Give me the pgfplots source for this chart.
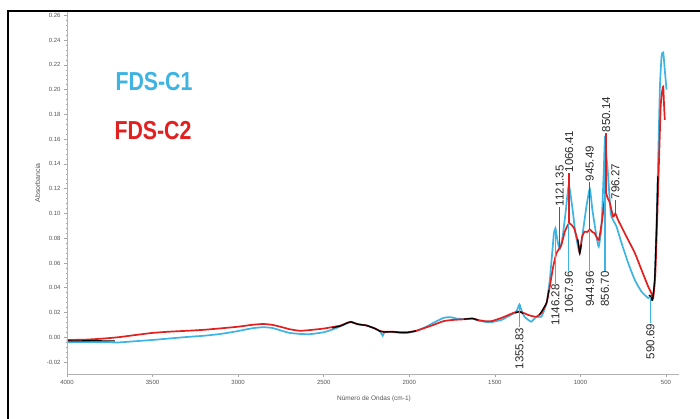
\documentclass[border=0pt]{standalone}
\usepackage{pgfplots}
\pgfplotsset{compat=1.18}
\usepackage{fontspec}
\setmainfont{Liberation Sans}
\definecolor{cC}{HTML}{3EB4E2}
\definecolor{cR}{HTML}{E2201F}
\definecolor{tk}{HTML}{555555}
\definecolor{lab}{HTML}{2A2A2A}

\pgfplotstableread{
wn v
4000 -0.0038
3900 -0.0039
3800 -0.0040
3700 -0.0042
3600 -0.0032
3500 -0.0022
3400 -0.0010
3300 0.0002
3200 0.0012
3100 0.0027
3000 0.0050
2920 0.0072
2855 0.0081
2800 0.0075
2740 0.0050
2700 0.0035
2640 0.0027
2580 0.0025
2500 0.0040
2450 0.0062
2400 0.0090
2360 0.0115
2340 0.0125
2300 0.0105
2250 0.0095
2200 0.0070
2170 0.0045
2155 0.0012
2145 0.0040
2100 0.0042
2050 0.0035
2013 0.0035
1960 0.0050
1900 0.0085
1860 0.0116
1800 0.0156
1760 0.0162
1720 0.0150
1680 0.0148
1630 0.0150
1600 0.0135
1560 0.0125
1520 0.0122
1461 0.0140
1420 0.0170
1385 0.0196
1370 0.0220
1356 0.0265
1345 0.0220
1327 0.0166
1300 0.0135
1286 0.0126
1257 0.0166
1228 0.0166
1198 0.0277
1179 0.0463
1165 0.0680
1155 0.0840
1146 0.0880
1138 0.0813
1128 0.0740
1120 0.0715
1105 0.0802
1087 0.1004
1068 0.1230
1048 0.1055
1029 0.0842
1004 0.0680
984 0.0867
965 0.1055
945 0.1200
930 0.1028
906 0.0813
893 0.0732
877 0.0893
864 0.1327
857 0.1600
848 0.1450
842 0.1378
823 0.1004
809 0.0947
789 0.0893
760 0.0762
721 0.0600
682 0.0462
643 0.0368
604 0.0317
591 0.0328
579 0.0300
566 0.0462
550 0.1190
536 0.2000
526 0.2267
516 0.2300
507 0.2159
497 0.2000
}\cone

\pgfplotstableread{
wn v
4000 -0.0022
3900 -0.0020
3800 -0.0012
3700 0.0000
3600 0.0018
3500 0.0035
3400 0.0045
3300 0.0052
3200 0.0060
3100 0.0072
3000 0.0085
2920 0.0100
2855 0.0107
2800 0.0100
2740 0.0080
2700 0.0065
2640 0.0052
2580 0.0058
2500 0.0070
2450 0.0082
2400 0.0095
2360 0.0118
2340 0.0122
2300 0.0105
2250 0.0095
2200 0.0070
2170 0.0050
2150 0.0045
2100 0.0045
2050 0.0040
2013 0.0040
1960 0.0052
1900 0.0080
1860 0.0099
1800 0.0130
1760 0.0138
1720 0.0142
1680 0.0145
1630 0.0152
1600 0.0140
1560 0.0130
1520 0.0130
1461 0.0156
1420 0.0180
1385 0.0200
1356 0.0207
1330 0.0195
1305 0.0180
1280 0.0170
1257 0.0166
1228 0.0196
1198 0.0277
1179 0.0409
1159 0.0570
1140 0.0680
1121 0.0720
1111 0.0746
1091 0.0853
1066 0.0921
1037 0.0880
1013 0.0762
1004 0.0680
990 0.0813
975 0.0853
960 0.0850
945 0.0870
930 0.0850
917 0.0840
893 0.0786
873 0.0947
860 0.1100
850 0.1160
840 0.1120
829 0.1090
809 0.0974
796 0.1000
780 0.0947
741 0.0840
682 0.0680
643 0.0544
604 0.0409
585 0.0355
575 0.0317
562 0.0519
546 0.1190
531 0.1863
521 0.2000
516 0.2024
511 0.1863
507 0.1755
}\ctwo

\begin{document}
\begin{tikzpicture}[x=1pt,y=1pt]
\useasboundingbox (0,0) rectangle (700,418);
\fill[white] (0,0) rectangle (700,418);
\draw[line width=2pt] (8,-5) -- (8,407.3) -- (710,407.3);
\begin{axis}[
  at={(67pt,44pt)}, anchor=south west,
  scale only axis, width=612pt, height=362pt,
  x dir=reverse, xmin=424, xmax=4000, ymin=-0.0297, ymax=0.2627,
  axis line style={draw=none},
  clip=false,
  xtick={500,1000,1500,2000,2500,3000,3500,4000},
  ytick={-0.02,0,0.02,0.04,0.06,0.08,0.10,0.12,0.14,0.16,0.18,0.20,0.22,0.24,0.26},
  minor x tick num=4, minor y tick num=4,
  tick align=outside, major tick length=3pt, minor tick length=1.3pt,
  tick style={color=gray!70, line width=0.5pt},
  xtick pos=bottom, ytick pos=left,
  /pgf/number format/assume math mode=true,
  /pgf/number format/1000 sep={},
  xticklabel style={font=\fontsize{6}{6}\selectfont, text=tk},
  yticklabel style={font=\fontsize{6}{6}\selectfont, text=tk,
    /pgf/number format/.cd, fixed, fixed zerofill, precision=2},
]
\addplot[cC, line width=1.7pt, smooth, tension=0.3] table[x=wn,y=v] {\cone};
\addplot[cR, line width=1.7pt, smooth, tension=0.3] table[x=wn,y=v] {\ctwo};
% overlapping stretches drawn black
\addplot[black, line width=1.1pt] coordinates {(4000,-0.0030) (3850,-0.0028) (3720,-0.0030)};
\addplot[black, line width=1.3pt, smooth, tension=0.3] coordinates {(2450,0.0075) (2400,0.0092) (2360,0.0117) (2340,0.0124) (2300,0.0105) (2250,0.0095) (2200,0.0070) (2170,0.0048) (2150,0.0043) (2100,0.0044) (2050,0.0038) (2013,0.0038) (1960,0.0051)};
\addplot[black, line width=1.2pt, smooth, tension=0.3] coordinates {(1680,0.0146) (1630,0.0151) (1600,0.0138)};
\addplot[black, line width=1.2pt, smooth, tension=0.3] coordinates {(1380,0.0195) (1356,0.0207) (1335,0.0190)};
\addplot[black, line width=1.2pt, smooth, tension=0.3] coordinates {(1240,0.0180) (1198,0.0277) (1185,0.0380)};
\addplot[black, line width=1.2pt, smooth, tension=0.3] coordinates {(1015,0.0790) (1004,0.0680) (995,0.0750)};
\addplot[black, line width=1.3pt, smooth, tension=0.3] coordinates {(600,0.0340) (590,0.0330) (579,0.0300) (566,0.0470) (555,0.0900) (548,0.1300)};
% peak marker lines
\addplot[cC, line width=1.3pt] coordinates {(1355.83,0.0265) (1355.83,0.0083)};
\addplot[cC, line width=1.3pt] coordinates {(1146.28,0.0880) (1146.28,0.0431)};
\addplot[cC, line width=1.3pt] coordinates {(1067.96,0.1230) (1067.96,0.0536)};
\addplot[cC, line width=1.3pt] coordinates {(944.96,0.1200) (944.96,0.0536)};
\addplot[cC, line width=1.3pt] coordinates {(856.70,0.1600) (856.70,0.0536)};
\addplot[cC, line width=1.3pt] coordinates {(590.69,0.0328) (590.69,0.0113)};
\addplot[cR, line width=1.3pt] coordinates {(1121.35,0.0720) (1121.35,0.1053)};
\addplot[cR, line width=1.3pt] coordinates {(1066.41,0.0921) (1066.41,0.1327)};
\addplot[cR, line width=1.3pt] coordinates {(945.49,0.0870) (945.49,0.1254)};
\addplot[cR, line width=1.3pt] coordinates {(850.14,0.1160) (850.14,0.1650)};
\addplot[cR, line width=1.3pt] coordinates {(796.27,0.1000) (796.27,0.1109)};
\begin{scope}[every node/.style={rotate=90, inner sep=0.5pt, text=lab, font=\fontsize{11.5}{11.5}\selectfont}]
\node[anchor=east] at (axis cs:1355.83,0.0083) {1355.83};
\node[anchor=east] at (axis cs:1146.28,0.0431) {1146.28};
\node[anchor=east] at (axis cs:1067.96,0.0536) {1067.96};
\node[anchor=east] at (axis cs:944.96,0.0536) {944.96};
\node[anchor=east] at (axis cs:856.70,0.0536) {856.70};
\node[anchor=east] at (axis cs:590.69,0.0113) {590.69};
\node[anchor=west] at (axis cs:1121.35,0.1053) {1121.35};
\node[anchor=west] at (axis cs:1066.41,0.1327) {1066.41};
\node[anchor=west] at (axis cs:945.49,0.1254) {945.49};
\node[anchor=west] at (axis cs:850.14,0.1650) {850.14};
\node[anchor=west] at (axis cs:796.27,0.1109) {796.27};
\end{scope}
\end{axis}
\draw[gray!60, line width=0.6pt] (67,406) -- (67,44) -- (679,44);
\node[rotate=90, text=tk, font=\fontsize{7}{7}\selectfont] at (37.5,235) {Absorbancia};
\node[text=tk, font=\fontsize{6.5}{6.5}\selectfont] at (374,19) {Número de Ondas (cm-1)};
\node[text=cC, font=\fontsize{26}{26}\selectfont\bfseries, xscale=0.82] at (154,336) {FDS-C1};
\node[text=cR, font=\fontsize{26}{26}\selectfont\bfseries, xscale=0.82] at (153,287) {FDS-C2};
\end{tikzpicture}
\end{document}
